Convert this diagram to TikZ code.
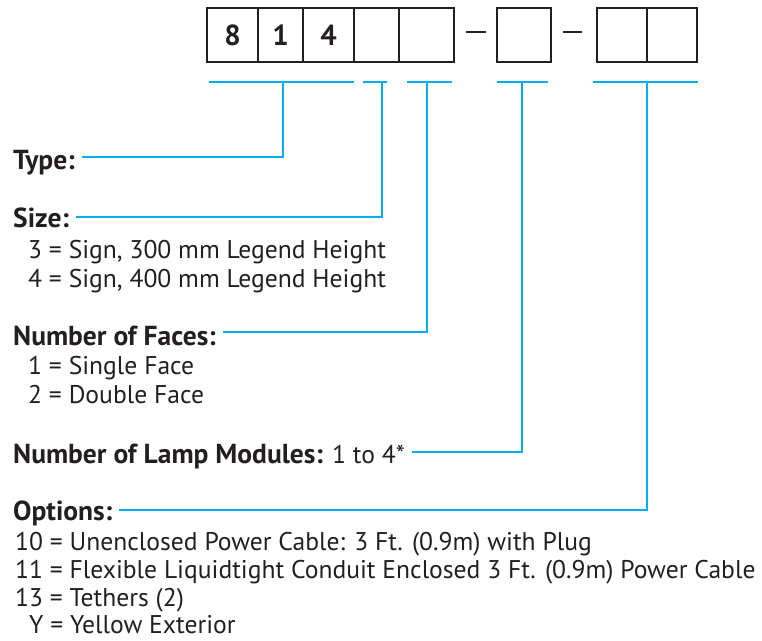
\documentclass[tikz,border=0pt]{standalone}
\usepackage{fontspec}
\setmainfont{PT Sans}
\usetikzlibrary{calc}
\definecolor{ink}{HTML}{231F20}
\definecolor{leadblue}{HTML}{00AEEF}

\begin{document}
\begin{tikzpicture}[x=1pt, y=-1pt, line cap=butt,
  cell/.style={draw=ink, line width=1.6pt, minimum height=54pt, inner sep=0pt,
    font=\fontsize{29}{29}\selectfont\bfseries, text=ink},
  lead/.style={leadblue, line width=2.6pt},
  lbl/.style={anchor=base west, inner sep=0pt, font=\fontsize{27.5}{28}\selectfont\bfseries, text=ink},
  item/.style={anchor=base west, inner sep=0pt, font=\fontsize{25.6}{28}\selectfont, text=ink}]
  \useasboundingbox (0,0) rectangle (762,640);
  % part number boxes
  \foreach \n/\x/\w/\t in {c1/232.5/51/8, c2/280.5/45/1, c3/328.5/51/4, c4/376.5/45/,
      c5/426.5/55/, lamp/524/54/, optA/622/50/, optB/672/50/}
    \node[cell, minimum width=\w pt] (\n) at (\x,35) {\t};
  \draw[ink, line width=1.6pt, shorten <=11pt, shorten >=10pt]
    ([yshift=3pt]c5.east) -- ([yshift=3pt]lamp.west);
  \draw[ink, line width=1.6pt, shorten <=11pt, shorten >=14pt]
    ([yshift=3pt]lamp.east) -- ([yshift=3pt]optA.west);
  % brackets under the boxes
  \coordinate (typeB) at (283,82);  \coordinate (sizeB) at (382,82);
  \coordinate (faceB) at (427,82);  \coordinate (lampB) at (522,82);
  \coordinate (optB) at (647,82);
  \draw[lead] (209,82) -- (354,82) (363,82) -- (387,82) (407,82) -- (452,82)
    (497,82) -- (548,82) (593,82) -- (698,82);
  % labels
  \node[lbl] (typeLbl) at (13,169) {Type:};
  \node[lbl] (sizeLbl) at (13,227) {Size:};
  \node[item] (size3) at (28,258) {3 = Sign, 300 mm Legend Height};
  \node[item] (size4) at (28,287) {4 = Sign, 400 mm Legend Height};
  \node[lbl] (faceLbl) at (13,345) {Number of Faces:};
  \node[item] (face1) at (28,374) {1 = Single Face};
  \node[item] (face2) at (28,403) {2 = Double Face};
  \node[lbl] (lampLbl) at (13,463) {Number of Lamp Modules: \mdseries\fontsize{25.6}{28}\selectfont 1 to 4*};
  \node[lbl] (optLbl) at (13,520) {Options:};
  \node[item] (opt10) at (15,550) {10 = Unenclosed Power Cable: 3 Ft. (0.9m) with Plug};
  \node[item] (opt11) at (15,578) {11 = Flexible Liquidtight Conduit Enclosed 3 Ft. (0.9m) Power Cable};
  \node[item] (opt13) at (15,606) {13 = Tethers (2)};
  \node[item] (optY) at (29,633) {Y = Yellow Exterior};
  % leaders
  \draw[lead] ([xshift=7pt, yshift=12pt]typeLbl.base east) -| (typeB);
  \draw[lead] ([xshift=7pt, yshift=10pt]sizeLbl.base east) -| (sizeB);
  \draw[lead] ([xshift=7pt, yshift=13pt]faceLbl.base east) -| (faceB);
  \draw[lead] ([xshift=7pt, yshift=11pt]lampLbl.base east) -| (lampB);
  \draw[lead] ([xshift=7pt, yshift=10pt]optLbl.base east) -| (optB);
\end{tikzpicture}
\end{document}
